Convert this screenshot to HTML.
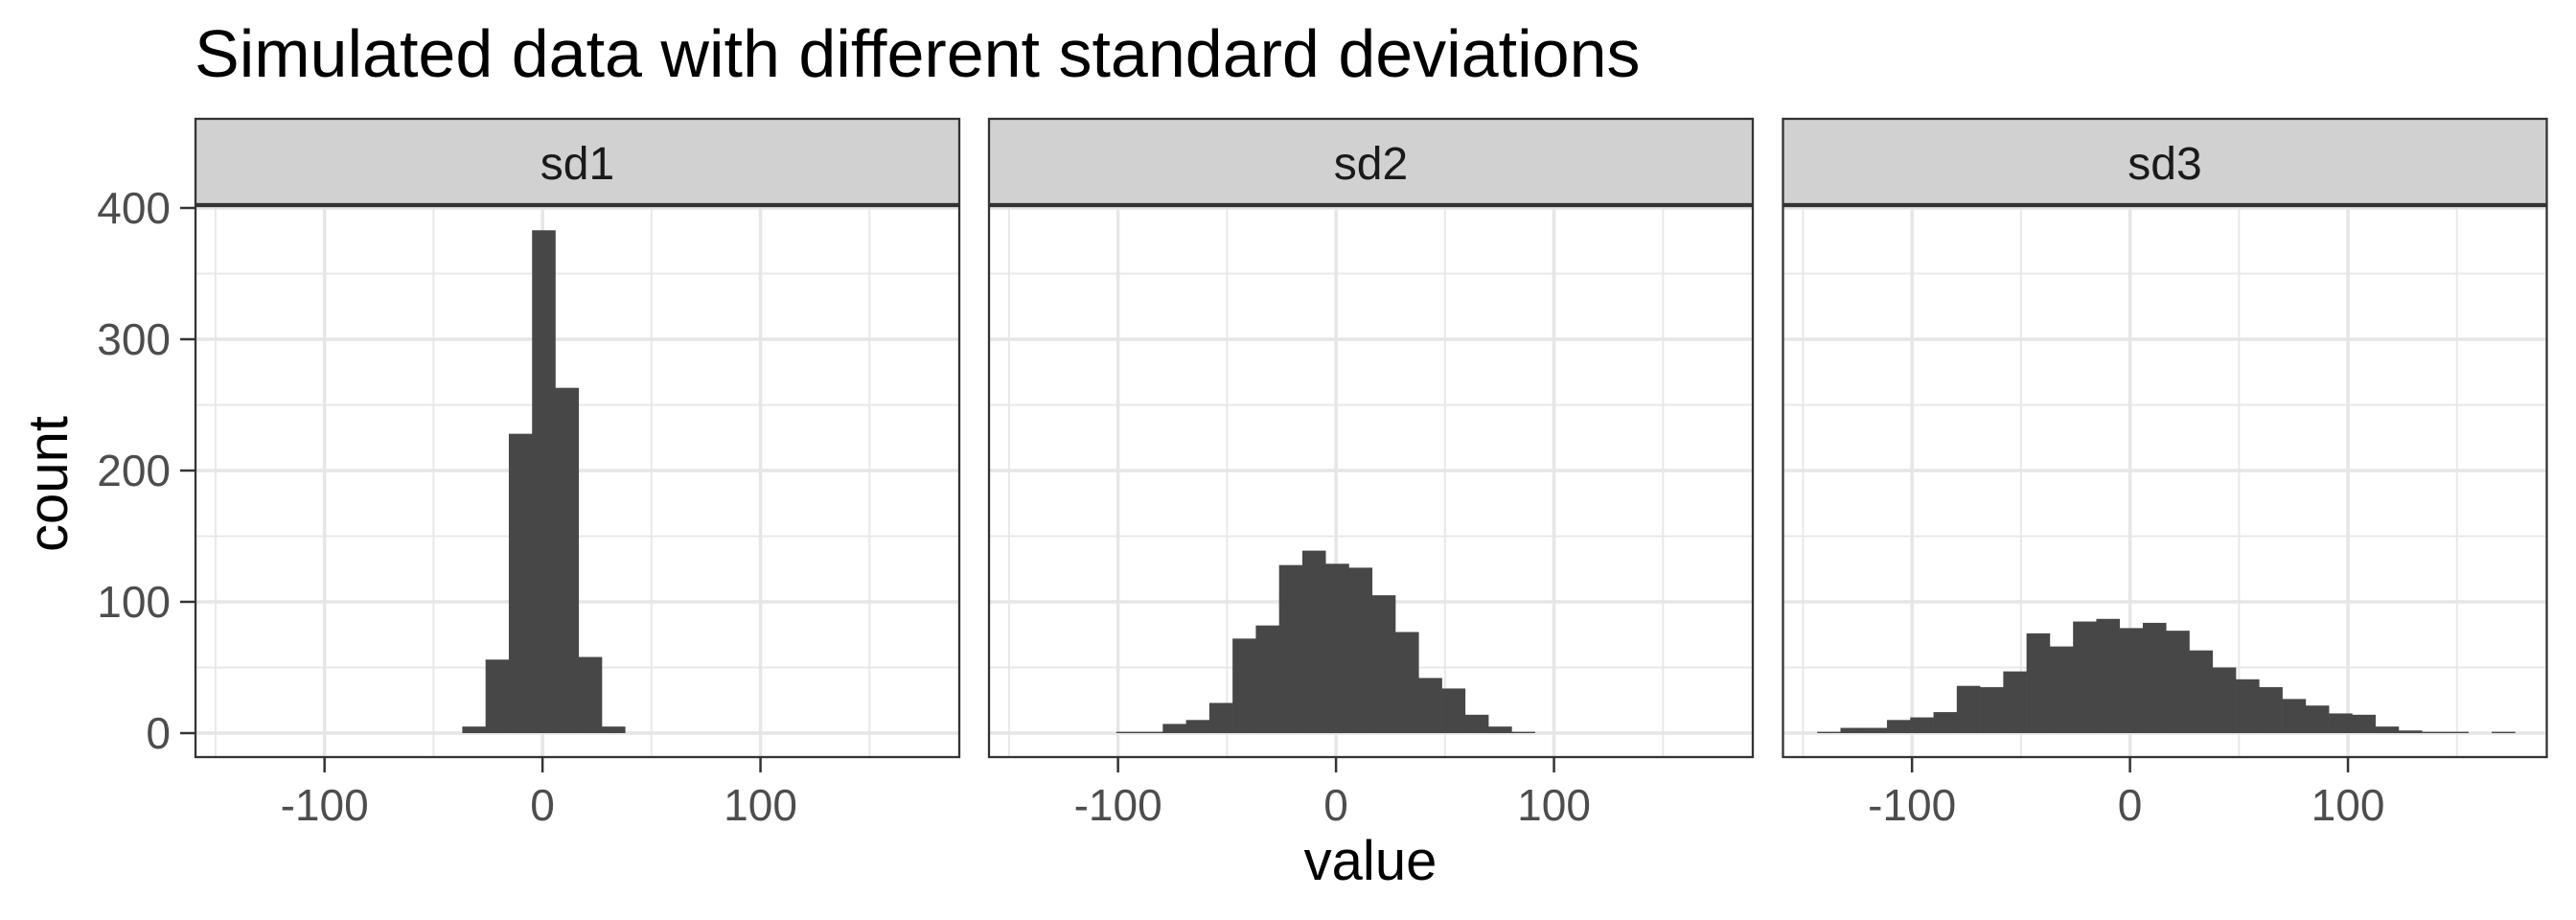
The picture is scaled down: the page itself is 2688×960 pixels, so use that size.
<!DOCTYPE html>
<html><head><meta charset="utf-8"><style>
html,body{margin:0;padding:0;background:#fff;}
svg{display:block;font-family:"Liberation Sans",Arial,sans-serif;}
</style></head><body>
<svg id="chart" width="2688" height="960" viewBox="0 0 2688 960" xmlns="http://www.w3.org/2000/svg">
<rect x="0" y="0" width="2688" height="960" fill="#fff"/>
<text x="203" y="80" font-size="70" fill="#000">Simulated data with different standard deviations</text>
<text transform="translate(70,505) rotate(-90)" text-anchor="middle" font-size="58" fill="#000">count</text>
<text x="1430" y="918" text-anchor="middle" font-size="58" fill="#000">value</text>
<g id="panels"></g>
</svg>
<script>
const facetNames = ["sd1","sd2","sd3"];
const binStart = -143.5;
const binWidth = 10.67;
const sd1Counts = [0,0,0,0,0,0,0,0,0,0,5,56,228,383,263,58,5,0,0,0,0,0,0,0,0,0,0,0,0,0];
const sd2Counts = [0,0,0,0,1,1,7,10,23,72,82,128,139,129,126,105,77,42,34,14,5,1,0,0,0,0,0,0,0,0];
const sd3Counts = [1,4,4,10,12,16,36,35,47,76,66,85,87,80,84,78,63,50,41,35,26,21,15,14,5,2,1,1,0,1];
const xTicks = [-100,0,100];
const xMinor = [-150,-50,50,150];
const yTicks = [0,100,200,300,400];
const yMinor = [50,150,250,350];
const xDomain = [-159.2,191.2];
const yZeroPx = 765, yPerUnit = 1.37;
const allCounts = [sd1Counts, sd2Counts, sd3Counts];
const panelLefts = [204,1032,1860.5];
const panelW = 797, panelTop = 215, panelBottom = 790, stripTop = 124;
const NS = "http://www.w3.org/2000/svg";
const root = document.getElementById("panels");
function mk(tag, attrs, parent){ const e=document.createElementNS(NS,tag); for(const k in attrs) e.setAttribute(k,attrs[k]); (parent||root).appendChild(e); return e; }
function yScale(v){ return yZeroPx - v*yPerUnit; }
facetNames.forEach((name,pi)=>{
  const L = panelLefts[pi];
  const xScale = v => L + (v - xDomain[0])/(xDomain[1]-xDomain[0])*panelW;
  const g = mk("g",{});
  
  
  mk("rect",{x:L,y:panelTop,width:panelW,height:panelBottom-panelTop,fill:"#fff"},g);
  yMinor.forEach(v=>{ mk("line",{x1:L,x2:L+panelW,y1:yScale(v),y2:yScale(v),stroke:"#e8e8e8","stroke-width":2},g); });
  xMinor.forEach(v=>{ mk("line",{x1:xScale(v),x2:xScale(v),y1:panelTop,y2:panelBottom,stroke:"#e8e8e8","stroke-width":2},g); });
  yTicks.forEach(v=>{ mk("line",{x1:L,x2:L+panelW,y1:yScale(v),y2:yScale(v),stroke:"#e6e6e6","stroke-width":3.6},g); });
  xTicks.forEach(v=>{ mk("line",{x1:xScale(v),x2:xScale(v),y1:panelTop,y2:panelBottom,stroke:"#e6e6e6","stroke-width":3.6},g); });
  allCounts[pi].forEach((c,i)=>{
    if(c<=0) return;
    const x0 = xScale(binStart + i*binWidth), x1 = xScale(binStart + (i+1)*binWidth);
    const r = mk("rect",{x:x0,y:yScale(c),width:x1-x0+0.3,height:yScale(0)-yScale(c),fill:"#474747"},g);
    
    
  });
  mk("rect",{x:L,y:panelTop,width:panelW,height:panelBottom-panelTop,fill:"none",stroke:"#333","stroke-width":2.3},g);
  const strip = mk("rect",{x:L,y:stripTop,width:panelW,height:panelTop-stripTop-2,fill:"#d1d1d1",stroke:"#333","stroke-width":2.3},g);
  
  
  const st = mk("text",{x:L+panelW/2,y:187,"text-anchor":"middle","font-size":48,fill:"#1a1a1a"},g);
  st.textContent = name;
  
  
  xTicks.forEach(v=>{
    mk("line",{x1:xScale(v),x2:xScale(v),y1:panelBottom,y2:panelBottom+16,stroke:"#333","stroke-width":2.5},g);
    const t = mk("text",{x:xScale(v),y:856,"text-anchor":"middle","font-size":46,fill:"#4d4d4d"},g);
    t.textContent = v;
    
    
  });
  if(pi===0){
    yTicks.forEach(v=>{
      mk("line",{x1:L-16,x2:L,y1:yScale(v),y2:yScale(v),stroke:"#333","stroke-width":2.5},g);
      const t = mk("text",{x:L-26,y:yScale(v)+16,"text-anchor":"end","font-size":46,fill:"#4d4d4d"},g);
      t.textContent = v;
      
      
    });
  }
});
</script>
</body></html>
